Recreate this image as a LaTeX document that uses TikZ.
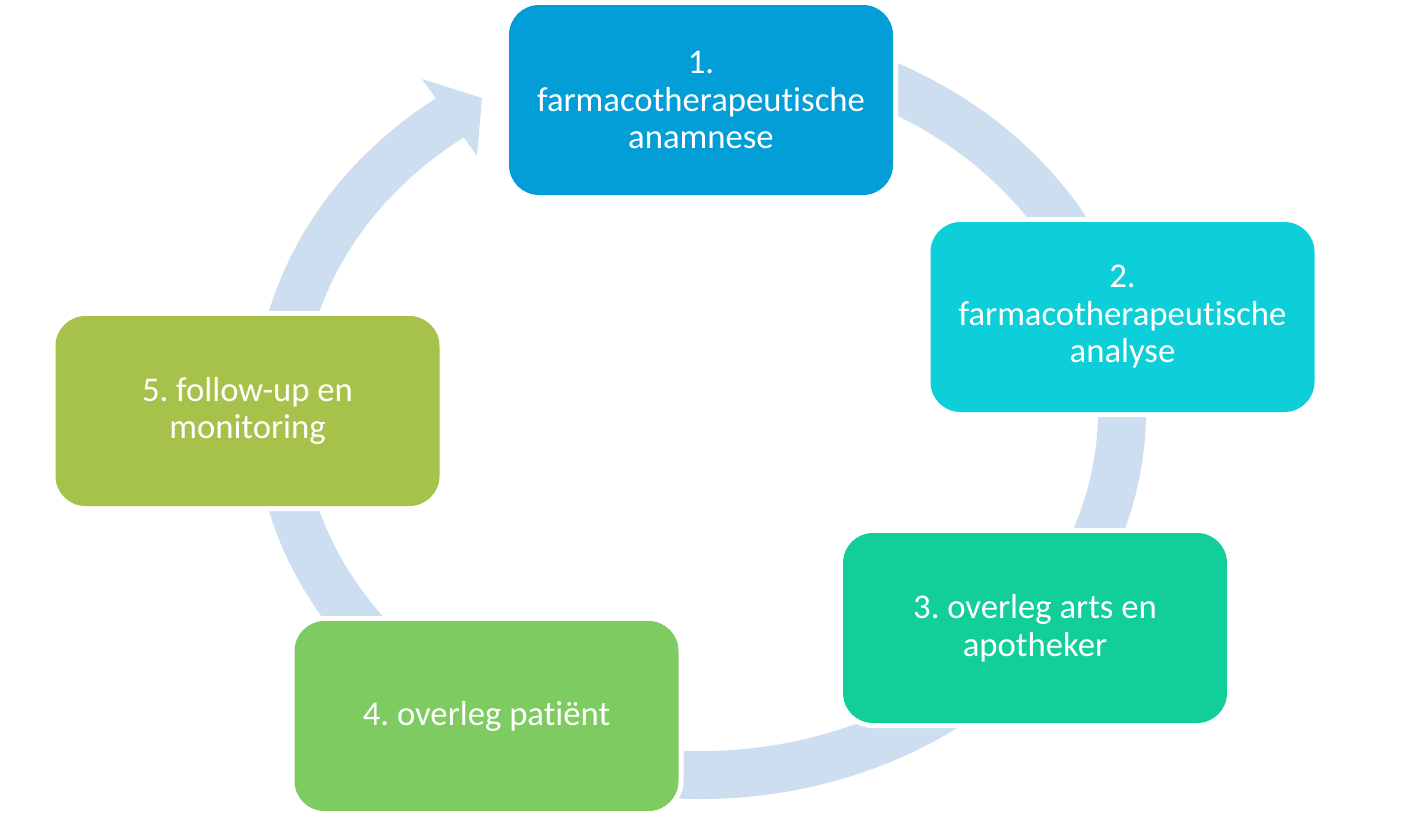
\documentclass[tikz,border=0pt]{standalone}
\usepackage{fontspec}
\setmainfont{Carlito}[Ligatures={NoCommon}]
\frenchspacing
\definecolor{bandc}{RGB}{204,222,239}
\definecolor{cA}{RGB}{3,158,216}
\definecolor{cB}{RGB}{13,207,217}
\definecolor{cC}{RGB}{18,207,153}
\definecolor{cD}{RGB}{126,203,98}
\definecolor{cE}{RGB}{166,194,74}
\tikzset{
  stepbox/.style={rectangle, rounded corners=30pt, draw=none,
    preaction={draw=white, line width=10pt},
    minimum width=384pt, minimum height=190pt, inner sep=0pt, outer sep=0pt,
    align=center, text=white, font=\fontsize{34.7pt}{37.5pt}\selectfont\frenchspacing},
  ring/.style={draw=bandc, line width=48pt}
}
\begin{document}
\begin{tikzpicture}[x=1pt,y=1pt]
\path[use as bounding box] (0,0) rectangle (1402,-835);
% circular band
\coordinate (neck) at ({700+422*cos(125)},{-411+364*sin(125)});
\draw[ring] (neck) arc[start angle=125, end angle=455, x radius=422, y radius=364];
% arrowhead
\coordinate (barbout) at (422,-79);
\coordinate (tip) at (482,-98);
\coordinate (barbin) at (477,-156);
\fill[bandc] (barbout) -- (tip) -- (barbin) -- cycle;
% steps
\node[stepbox, fill=cA] (b1) at (701,-100) {1.\\farmacotherapeutische\\anamnese};
\node[stepbox, fill=cB] (b2) at (1122.5,-317) {2.\\farmacotherapeutische\\analyse};
\node[stepbox, fill=cC] (b3) at (1035,-628) {3. overleg arts en\\apotheker};
\node[stepbox, fill=cD] (b4) at (486.5,-716) {4. overleg patiënt};
\node[stepbox, fill=cE] (b5) at (247.5,-411) {5. follow-up en\\monitoring};
\end{tikzpicture}
\end{document}
